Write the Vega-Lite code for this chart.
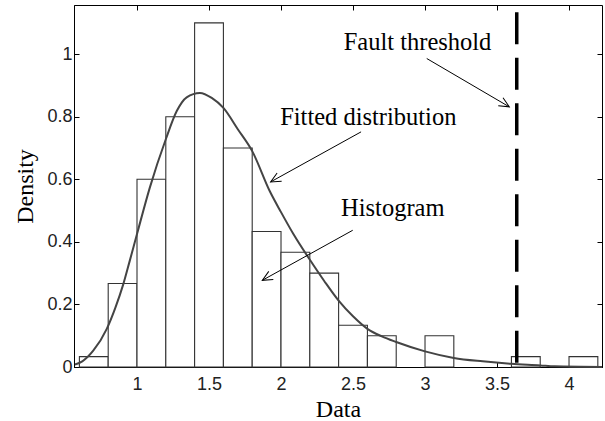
{
  "$schema": "https://vega.github.io/schema/vega-lite/v6.json",
  "width": 528,
  "height": 362,
  "autosize": {"type": "none"},
  "padding": {"left": 74, "top": 5, "right": 3, "bottom": 54},
  "background": "white",
  "config": {
    "view": {"stroke": "black", "strokeWidth": 1},
    "axis": {
      "grid": false,
      "domainColor": "black",
      "tickColor": "black",
      "tickSize": -5,
      "labelFont": "Liberation Sans",
      "labelFontSize": 18,
      "labelColor": "#222",
      "titleFont": "Liberation Serif",
      "titleFontSize": 24,
      "titleFontWeight": "normal",
      "titleColor": "black"
    }
  },
  "datasets": {
    "bins": [
      {"start": 0.6, "end": 0.8, "density": 0.0333},
      {"start": 0.8, "end": 1.0, "density": 0.2667},
      {"start": 1.0, "end": 1.2, "density": 0.6},
      {"start": 1.2, "end": 1.4, "density": 0.8},
      {"start": 1.4, "end": 1.6, "density": 1.1},
      {"start": 1.6, "end": 1.8, "density": 0.7},
      {"start": 1.8, "end": 2.0, "density": 0.4333},
      {"start": 2.0, "end": 2.2, "density": 0.3667},
      {"start": 2.2, "end": 2.4, "density": 0.3},
      {"start": 2.4, "end": 2.6, "density": 0.1333},
      {"start": 2.6, "end": 2.8, "density": 0.1},
      {"start": 3.0, "end": 3.2, "density": 0.1},
      {"start": 3.6, "end": 3.8, "density": 0.0333},
      {"start": 4.0, "end": 4.2, "density": 0.0333}
    ],
    "curve": [
      {"x": 0.569, "y": 0.008},
      {"x": 0.62, "y": 0.018},
      {"x": 0.696, "y": 0.052},
      {"x": 0.79, "y": 0.122},
      {"x": 0.85, "y": 0.19},
      {"x": 0.905, "y": 0.265},
      {"x": 0.95, "y": 0.34},
      {"x": 1.0, "y": 0.425},
      {"x": 1.09, "y": 0.575},
      {"x": 1.2, "y": 0.728},
      {"x": 1.276, "y": 0.818},
      {"x": 1.345, "y": 0.862},
      {"x": 1.437, "y": 0.876},
      {"x": 1.519, "y": 0.86},
      {"x": 1.6, "y": 0.828},
      {"x": 1.7, "y": 0.76},
      {"x": 1.8, "y": 0.69},
      {"x": 1.924, "y": 0.56},
      {"x": 2.0, "y": 0.495},
      {"x": 2.086, "y": 0.425},
      {"x": 2.197, "y": 0.345},
      {"x": 2.3, "y": 0.275},
      {"x": 2.4, "y": 0.212},
      {"x": 2.5, "y": 0.162},
      {"x": 2.6, "y": 0.122},
      {"x": 2.7, "y": 0.098},
      {"x": 2.8, "y": 0.08},
      {"x": 3.0, "y": 0.05},
      {"x": 3.2, "y": 0.029},
      {"x": 3.4, "y": 0.018},
      {"x": 3.6, "y": 0.01},
      {"x": 3.8, "y": 0.005},
      {"x": 3.9, "y": 0.002},
      {"x": 4.229, "y": 0.0}
    ],
    "arrows": [
      {"label": "Fault threshold", "tx": 2.948, "ty": 1.013, "x0": 3.012, "y0": 0.986, "x1": 3.585, "y1": 0.8315},
      {"label": "Fitted distribution", "tx": 2.606, "ty": 0.773, "x0": 2.556, "y0": 0.7515, "x1": 1.928, "y1": 0.5916},
      {"label": "Histogram", "tx": 2.776, "ty": 0.482, "x0": 2.498, "y0": 0.437, "x1": 1.87, "y1": 0.277}
    ],
    "threshold": [{"x": 3.637, "top": 1.134}]
  },
  "layer": [
    {
      "data": {"name": "bins"},
      "mark": {"type": "rect", "fill": "white", "stroke": "#333", "strokeWidth": 1.1},
      "encoding": {
        "x": {
          "field": "start", "type": "quantitative",
          "scale": {"domain": [0.5625, 4.229], "nice": false, "zero": false},
          "axis": {"orient": "bottom", "values": [1, 1.5, 2, 2.5, 3, 3.5, 4], "format": "~g", "title": "Data",
                   "labelPadding": 13.7, "titleX": 264, "titleY": 49.5, "titleBaseline": "alphabetic"}
        },
        "x2": {"field": "end"},
        "y": {
          "field": "density", "type": "quantitative",
          "scale": {"domain": [0, 1.157], "nice": false, "zero": true},
          "axis": {"orient": "left", "values": [0, 0.2, 0.4, 0.6, 0.8, 1], "format": "~g", "title": "Density",
                   "labelPadding": 7, "titleX": -42, "titleY": 181, "titleBaseline": "alphabetic", "titleAngle": -90}
        },
        "y2": {"datum": 0}
      }
    },
    {
      "data": {"name": "curve"},
      "mark": {"type": "line", "interpolate": "monotone", "color": "#444", "strokeWidth": 2},
      "encoding": {
        "x": {"field": "x", "type": "quantitative", "axis": null},
        "y": {"field": "y", "type": "quantitative", "axis": null}
      }
    },
    {
      "data": {"name": "threshold"},
      "mark": {"type": "rule", "color": "black", "strokeWidth": 3.5, "strokeDash": [32, 13.5]},
      "encoding": {
        "x": {"field": "x", "type": "quantitative",
              "axis": {"orient": "top", "values": [1, 1.5, 2, 2.5, 3, 3.5, 4], "labels": false, "title": null, "domain": false}},
        "y": {"field": "top", "type": "quantitative",
              "axis": {"orient": "right", "values": [0, 0.2, 0.4, 0.6, 0.8, 1], "labels": false, "title": null, "domain": false}},
        "y2": {"datum": 0}
      }
    },
    {
      "data": {"name": "arrows"},
      "mark": {"type": "rule", "color": "black", "strokeWidth": 1},
      "encoding": {
        "x": {"field": "x0", "type": "quantitative", "axis": null},
        "y": {"field": "y0", "type": "quantitative", "axis": null},
        "x2": {"field": "x1"},
        "y2": {"field": "y1"}
      }
    },
    {
      "data": {"name": "arrows"},
      "transform": [{"filter": "datum.label === 'Fault threshold'"}],
      "mark": {"type": "point", "shape": "M -1 -0.47 L 0 0 L -1 0.47", "size": 400, "angle": 30.4, "filled": false, "fill": null, "stroke": "black", "strokeWidth": 1, "opacity": 1},
      "encoding": {
        "x": {"field": "x1", "type": "quantitative", "axis": null},
        "y": {"field": "y1", "type": "quantitative", "axis": null}
      }
    },
    {
      "data": {"name": "arrows"},
      "transform": [{"filter": "datum.label !== 'Fault threshold'"}],
      "mark": {"type": "point", "shape": "M -1 -0.47 L 0 0 L -1 0.47", "size": 400, "angle": 151, "filled": false, "fill": null, "stroke": "black", "strokeWidth": 1, "opacity": 1},
      "encoding": {
        "x": {"field": "x1", "type": "quantitative", "axis": null},
        "y": {"field": "y1", "type": "quantitative", "axis": null}
      }
    },
    {
      "data": {"name": "arrows"},
      "mark": {"type": "text", "font": "Liberation Serif", "fontSize": 24.5, "align": "center", "baseline": "alphabetic", "color": "black"},
      "encoding": {
        "x": {"field": "tx", "type": "quantitative", "axis": null},
        "y": {"field": "ty", "type": "quantitative", "axis": null},
        "text": {"field": "label"}
      }
    }
  ],
  "resolve": {"axis": {"x": "independent", "y": "independent"}}
}
